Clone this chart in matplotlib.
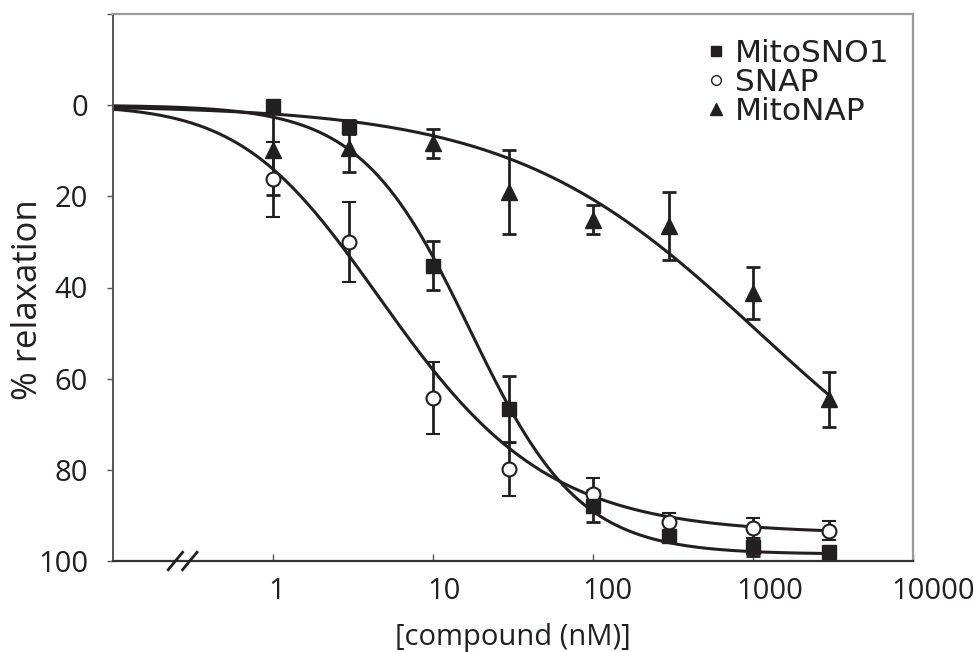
import numpy as np
import matplotlib.pyplot as plt
from matplotlib.lines import Line2D
from matplotlib.transforms import ScaledTranslation

plt.rcParams['font.family'] = ['Open Sans', 'DejaVu Sans']

# concentrations (nM)
conc = [1, 3, 10, 30, 100, 300, 1000, 3000]

# % relaxation, mean and error
mitosno1 = [0.2, 4.8, 35.2, 66.7, 87.9, 94.5, 96.9, 98.0]
mitosno1_err = [0.0, 1.5, 5.3, 7.2, 3.5, 1.0, 1.9, 1.0]
snap = [16.3, 30.0, 64.3, 79.9, 85.2, 91.4, 92.7, 93.4]
snap_err = [8.2, 8.7, 7.9, 5.8, 3.4, 1.9, 2.2, 2.1]
mitonap = [9.9, 9.5, 8.4, 19.0, 25.1, 26.5, 41.2, 64.5]
mitonap_err = [9.7, 5.2, 3.2, 9.2, 3.1, 7.4, 5.7, 6.0]

# fitted dose-response curves: bottom, EC50, hill slope, asymmetry
fit_names = ['MitoSNO1', 'SNAP', 'MitoNAP']
fit_bottom = [98.5, 94.0, 100.0]
fit_ec50 = [17.0, 1.83, 1100.0]
fit_hill = [1.27, 0.766, 0.56]
fit_asym = [1.0, 2.0, 1.0]

xticks = [1, 10, 100, 1000, 10000]
yticks = [-20, 0, 20, 40, 60, 80, 100]
ylabels = ['', '0', '20', '40', '60', '80', '100']

ink = '#231f20'


def dose_response(x, bottom, ec50, hill, s):
    return bottom / (1 + (ec50 / x) ** hill) ** s


fig = plt.figure(figsize=(9.74, 6.52), dpi=100)
ax = fig.add_axes([113 / 974, 1 - 561 / 652, 800 / 974, 547 / 652])

xs = np.logspace(-1, np.log10(3000), 400)
for i in range(3):
    ax.plot(xs, dose_response(xs, fit_bottom[i], fit_ec50[i], fit_hill[i], fit_asym[i]),
            color=ink, lw=2.2, zorder=2)

eb = dict(ecolor=ink, elinewidth=2, capsize=5, capthick=2, zorder=3)
ax.errorbar(conc, mitonap, yerr=mitonap_err, fmt='^', ms=12, mfc=ink, mec=ink, **eb)
ax.errorbar(conc, snap, yerr=snap_err, fmt='o', ms=10, mfc='white', mec=ink, mew=1.5, **eb)
ax.errorbar(conc, mitosno1, yerr=mitosno1_err, fmt='s', ms=10.5, mfc=ink, mec=ink, **eb)

ax.set_xscale('log')
ax.set_xlim(0.1, 10000)
ax.set_ylim(100, -20)
ax.set_xticks(xticks)
ax.set_xticklabels([str(t) for t in xticks])
ax.minorticks_off()
ax.set_yticks(yticks)
ax.set_yticklabels(ylabels)

ax.tick_params(axis='x', direction='in', length=5, width=1, colors='#555555',
               labelcolor=ink, labelsize=21, pad=11.5)
ax.tick_params(axis='y', direction='out', length=4, width=1, colors='#555555',
               labelcolor=ink, labelsize=21, pad=14)

# x tick labels sit a little right of their ticks in the original
for lab, dx in zip(ax.get_xticklabels(), [4, 11, 14, 17, 20]):
    lab.set_transform(lab.get_transform() + ScaledTranslation(dx / 100, 0, fig.dpi_scale_trans))

for side in ['top', 'right']:
    ax.spines[side].set_color('#9a9a9a')
    ax.spines[side].set_linewidth(1.6)
ax.spines['left'].set_color('#555555')
ax.spines['left'].set_linewidth(1.4)
ax.spines['bottom'].set_color('#333333')
ax.spines['bottom'].set_linewidth(1.6)

ax.set_xlabel('[compound (nM)]', fontsize=21, color=ink, labelpad=12)
ax.set_ylabel('% relaxation', fontsize=25, color=ink)
ax.yaxis.set_label_coords(-0.085, 0.477)

# axis break marks
for bx in [0.078, 0.096]:
    ax.plot([bx - 0.009, bx + 0.009], [-0.016, 0.016], transform=ax.transAxes,
            color=ink, lw=2, clip_on=False, zorder=5)

handles = [
    Line2D([], [], ls='none', marker='s', ms=7.5, mfc=ink, mec=ink),
    Line2D([], [], ls='none', marker='o', ms=7, mfc='white', mec=ink, mew=1),
    Line2D([], [], ls='none', marker='^', ms=9, mfc=ink, mec=ink),
]
leg = ax.legend(handles, fit_names, loc='upper left', bbox_to_anchor=(707 / 974, 0.940),
                bbox_transform=fig.transFigure, frameon=False, borderpad=0,
                borderaxespad=0, handlelength=0.6, handletextpad=0.3, labelspacing=0,
                prop={'family': 'DejaVu Sans', 'size': 22.5})
for t in leg.get_texts():
    t.set_color(ink)

fig.savefig('out.png', dpi=100)
